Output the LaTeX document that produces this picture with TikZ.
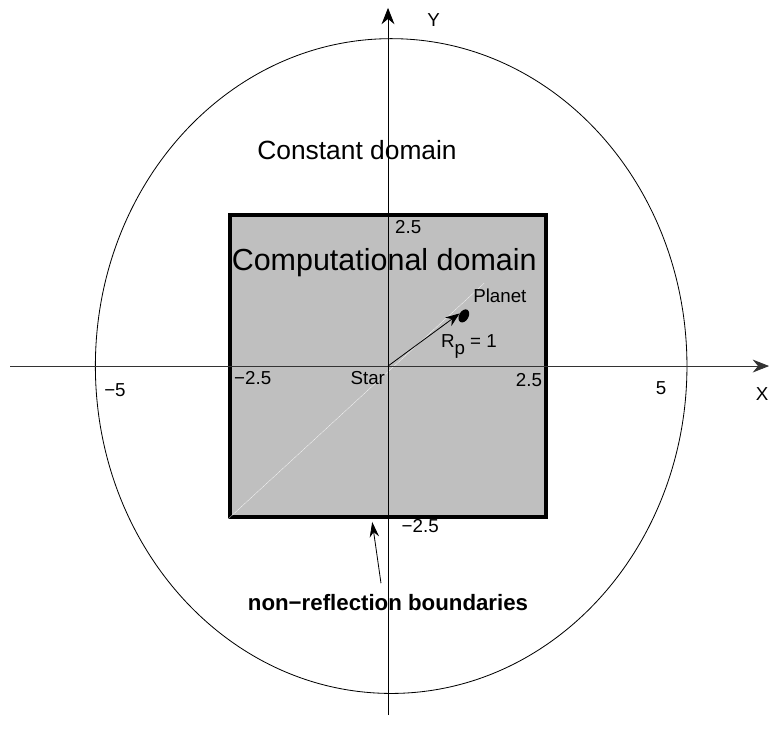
\documentclass[tikz,border=0pt]{standalone}
\usepackage{fontspec}
\setmainfont{Liberation Sans}
\usetikzlibrary{arrows.meta,shapes.geometric}
\begin{document}
\begin{tikzpicture}[x=1.896cm,y=1.812cm]
    \useasboundingbox (-6.139,-6.291) rectangle (6.028,6.06);
    \tikzstyle{ticklabel} = [font=\fontsize{16}{18}\selectfont,inner sep=0pt]
    \tikzstyle{axisline} = [line width=0.8pt,-{Stealth[length=14pt,width=11pt]}]
    % domains
    \draw[line width=0.7pt] (0.05,0) ellipse (4.68 and 5.42);
    \node[rectangle,draw,line width=3.2pt,fill=black!25,minimum width=9.48cm,minimum height=9.06cm] (comp) at (0,0) {};
    \draw[white,very thin] (comp.south west) -- (1.52,1.37);
    % axes
    \draw[axisline,black!80] (-5.98,0) -- (6.03,0);
    \draw[axisline] (0,-5.78) -- (0,5.93);
    \node[ticklabel] (ylab) at (0.72,5.73) {Y};
    \node[ticklabel] (xlab) at (5.92,-0.46) {X};
    % tick values
    \node[ticklabel] (lefttick) at (-2.14,-0.2) {−2.5};
    \node[ticklabel] (righttick) at (2.23,-0.23) {2.5};
    \node[ticklabel] (toptick) at (0.32,2.30) {2.5};
    \node[ticklabel] (bottomtick) at (0.51,-2.65) {−2.5};
    \node[ticklabel] (fivetick) at (4.32,-0.36) {5};
    \node[ticklabel] (mfivetick) at (-4.32,-0.4) {−5};
    % titles
    \node[font=\fontsize{22.5}{26}\selectfont] (constlab) at (-0.49,3.58) {Constant domain};
    \node[font=\fontsize{26}{30}\selectfont] (complab) at (-0.06,1.72) {Computational domain};
    % star and planet
    \coordinate (star) at (0,0);
    \node[ticklabel] (starlab) at (-0.32,-0.2) {Star};
    \node[ellipse,fill=black,minimum width=8pt,minimum height=12pt,inner sep=0pt,rotate=-30] (planet) at (1.2,0.83) {};
    \node[ticklabel] (planetlab) at (1.77,1.16) {Planet};
    \node[ticklabel] (radiuslab) at (1.28,0.33) {R\raisebox{-6pt}{p} = 1};
    \draw[line width=0.7pt,-{Stealth[length=12pt,width=9pt]}] (star) -- (planet.west);
    % boundaries
    \node[font=\bfseries\fontsize{19}{22}\selectfont] (boundlab) at (0,-3.91) {non−reflection boundaries};
    \coordinate (boundtip) at (-0.25,-2.58);
    \draw[line width=0.7pt,-{Stealth[length=13pt,width=8pt]}] ([xshift=-0.21cm,yshift=0.2cm]boundlab.north) -- (boundtip);
\end{tikzpicture}
\end{document}
